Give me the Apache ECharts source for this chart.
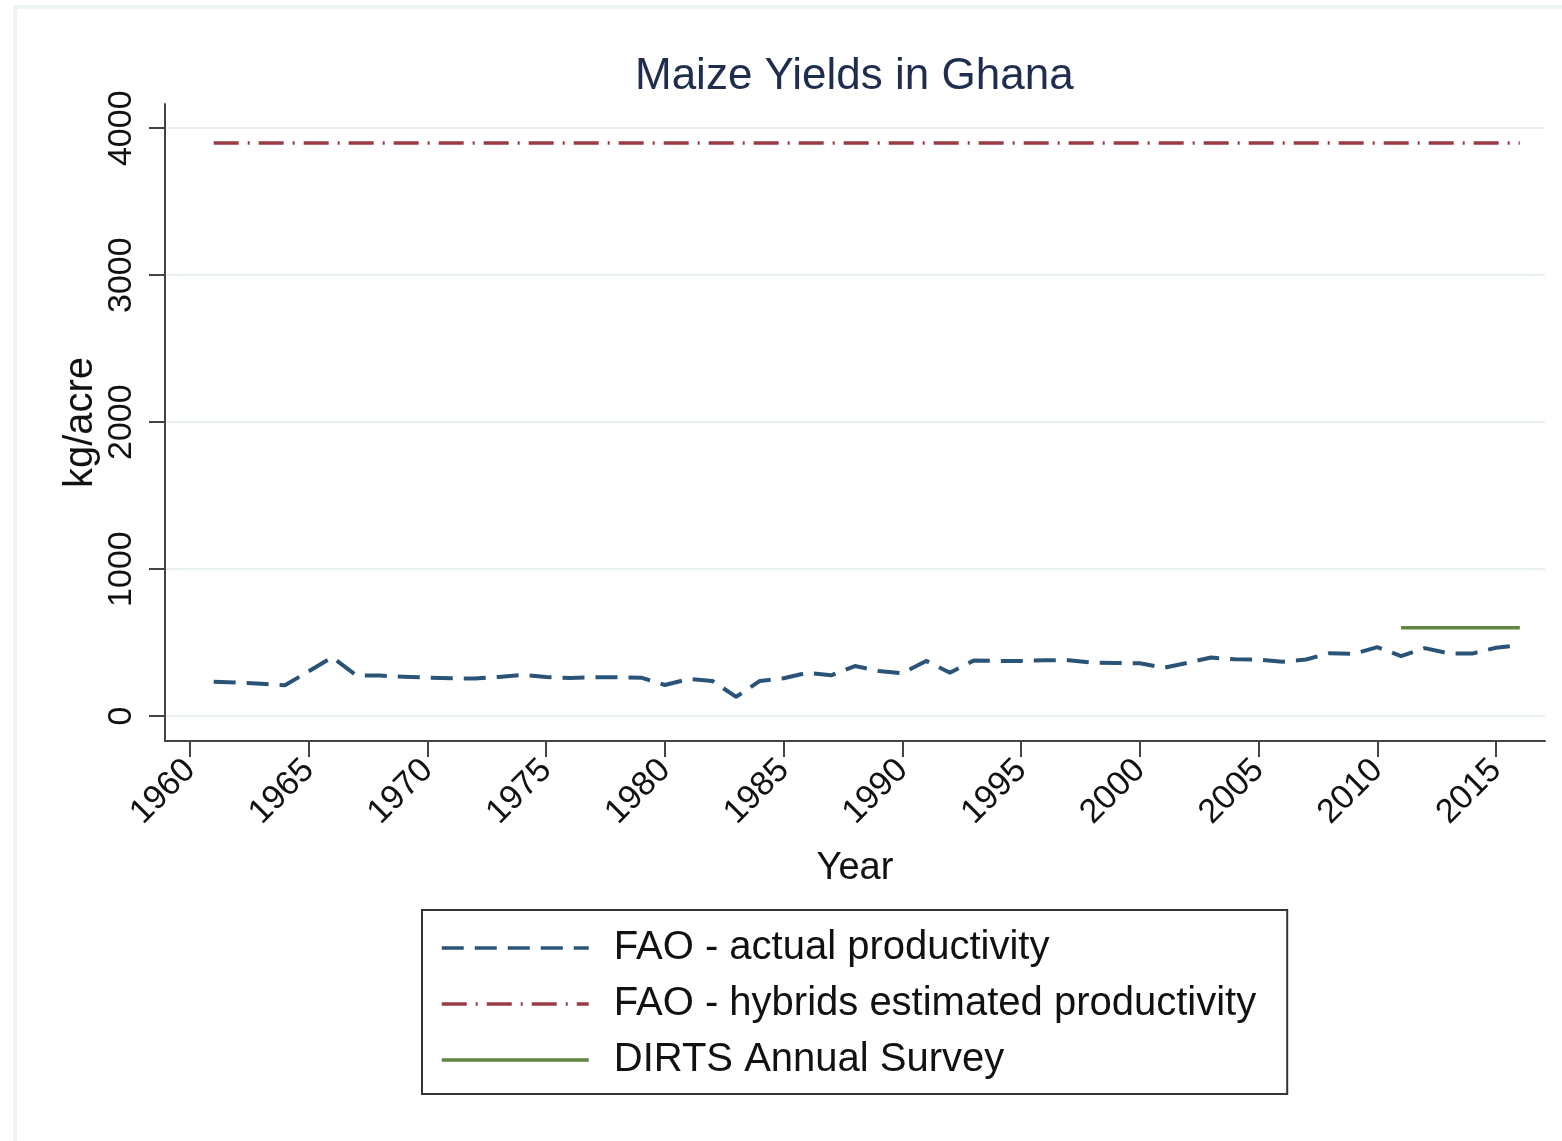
<!DOCTYPE html>
<html>
<head>
<meta charset="utf-8">
<title>Maize Yields in Ghana</title>
<script src="https://cdn.jsdelivr.net/npm/echarts@6/dist/echarts.min.js"></script>
<style>
  html, body { margin: 0; padding: 0; background: #fff; }
  .frame {
    position: absolute;
    left: 13px;
    top: 5px;
    right: 0;
    bottom: 0;
    border-left: 4px solid #eef4f4;
    border-top: 4px solid #eef4f4;
  }
  #chart {
    position: absolute;
    left: 0;
    top: 0;
    width: 1562px;
    height: 1141px;
  }
</style>
</head>
<body>
<div class="frame"></div>
<div id="chart"></div>
<script>
// FAO actual yields, 1961-2016 (kg/acre)
const years = [
  1961, 1962, 1963, 1964, 1965, 1966, 1967, 1968, 1969, 1970,
  1971, 1972, 1973, 1974, 1975, 1976, 1977, 1978, 1979, 1980,
  1981, 1982, 1983, 1984, 1985, 1986, 1987, 1988, 1989, 1990,
  1991, 1992, 1993, 1994, 1995, 1996, 1997, 1998, 1999, 2000,
  2001, 2002, 2003, 2004, 2005, 2006, 2007, 2008, 2009, 2010,
  2011, 2012, 2013, 2014, 2015, 2016
]
const faoActual = [
  234, 227, 220, 209, 304, 400, 277, 275, 268, 261,
  257, 255, 266, 280, 266, 259, 264, 264, 261, 211,
  252, 239, 130, 239, 257, 295, 277, 340, 307, 291,
  375, 295, 377, 375, 375, 380, 380, 364, 361, 359,
  328, 362, 398, 386, 384, 370, 385, 428, 423, 469,
  408, 462, 426, 425, 465, 481
]
// hybrids estimate is flat over the whole period
const hybridYears = [1961, 2016]
const hybridValues = [3900, 3900]
// DIRTS annual survey
const dirtsYears = [2011, 2012, 2013, 2014, 2015, 2016]
const dirtsValues = [600, 600, 600, 600, 600, 600]

const xTicks = [1960, 1965, 1970, 1975, 1980, 1985, 1990, 1995, 2000, 2005, 2010, 2015]
const yTicks = [0, 1000, 2000, 3000, 4000]

const pairs = (xs, ys) => xs.map((x, i) => [x, ys[i]])

const font = '"Liberation Sans", Arial, sans-serif'

const chart = echarts.init(document.getElementById('chart'))

chart.setOption({
  backgroundColor: 'transparent',
  animation: false,
  title: {
    text: 'Maize Yields in Ghana',
    left: 630,
    top: 50,
    textStyle: {
      fontFamily: font,
      fontSize: 44,
      fontWeight: 'normal',
      color: '#1f2d4e',
    },
  },
  grid: {
    left: 165,
    right: 17,
    top: 104,
    bottom: 400,
  },
  xAxis: {
    type: 'value',
    min: 1958.95,
    max: 2017.06,
    name: 'Year',
    nameLocation: 'middle',
    nameGap: 109,
    nameTextStyle: {
      fontFamily: font,
      fontSize: 38,
      color: '#111',
    },
    axisLine: {
      onZero: false,
      lineStyle: { color: '#444', width: 2 },
    },
    axisTick: {
      show: true,
      length: 16,
      customValues: xTicks,
      lineStyle: { color: '#444', width: 2 },
    },
    axisLabel: {
      customValues: xTicks,
      formatter: (v) => String(v),
      rotate: 45,
      margin: 24,
      fontFamily: font,
      fontSize: 34,
      color: '#111',
    },
    splitLine: { show: false },
  },
  yAxis: {
    type: 'value',
    min: -170,
    max: 4165,
    name: 'kg/acre',
    nameLocation: 'middle',
    nameGap: 64,
    nameMoveOverlap: false,
    nameTextStyle: {
      fontFamily: font,
      fontSize: 40,
      color: '#111',
    },
    axisLine: {
      show: true,
      onZero: false,
      lineStyle: { color: '#444', width: 2 },
    },
    axisTick: {
      show: true,
      length: 16,
      customValues: yTicks,
      lineStyle: { color: '#444', width: 2 },
    },
    axisLabel: {
      customValues: yTicks,
      formatter: (v) => String(v),
      rotate: 90,
      margin: 26,
      fontFamily: font,
      fontSize: 34,
      color: '#111',
    },
    splitLine: {
      show: true,
      lineStyle: { color: '#e8f0f2', width: 2 },
    },
  },
  legend: {
    orient: 'vertical',
    left: 422,
    top: 910,
    padding: [15, 31, 11, 18],
    borderColor: '#333',
    borderWidth: 2,
    itemWidth: 147,
    itemHeight: 14,
    itemGap: 10,
    itemStyle: { opacity: 0 },
    lineStyle: { width: 3.5 },
    textStyle: {
      fontFamily: font,
      fontSize: 40,
      lineHeight: 46,
      color: '#111',
      padding: [0, 0, 0, 20],
    },
    data: [
      'FAO - actual productivity',
      'FAO - hybrids estimated productivity',
      'DIRTS Annual Survey',
    ],
  },
  series: [
    {
      name: 'FAO - actual productivity',
      type: 'line',
      symbol: 'none',
      data: pairs(years, faoActual),
      lineStyle: { color: '#2a5378', width: 4, type: [22, 11] },
      itemStyle: { color: '#2a5378' },
    },
    {
      name: 'FAO - hybrids estimated productivity',
      type: 'line',
      symbol: 'none',
      data: pairs(hybridYears, hybridValues),
      lineStyle: { color: '#9a3a44', width: 3.5, type: [25, 9, 2, 9] },
      itemStyle: { color: '#9a3a44' },
    },
    {
      name: 'DIRTS Annual Survey',
      type: 'line',
      symbol: 'none',
      data: pairs(dirtsYears, dirtsValues),
      lineStyle: { color: '#5f8540', width: 3.5 },
      itemStyle: { color: '#5f8540' },
    },
  ],
})
</script>
</body>
</html>
